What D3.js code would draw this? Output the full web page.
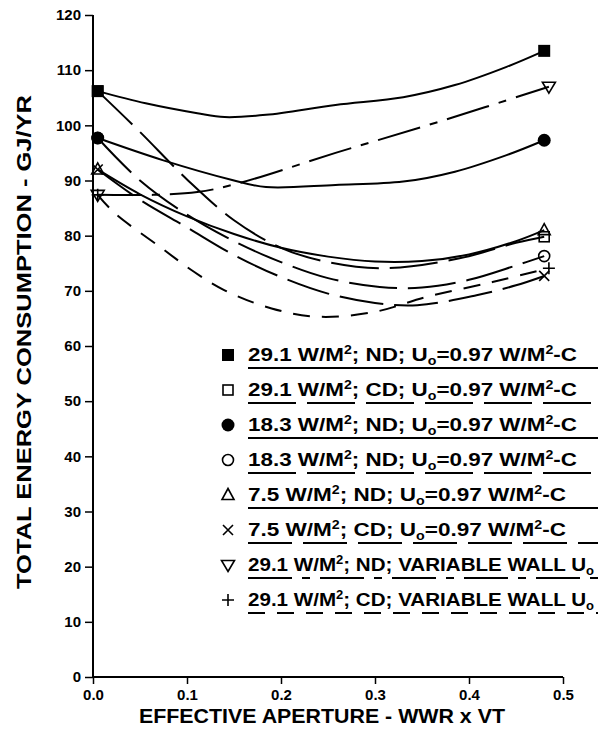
<!DOCTYPE html>
<html><head><meta charset="utf-8">
<script src="https://cdn.jsdelivr.net/npm/d3@7"></script>
<style>body{margin:0;background:#fff}svg{display:block}</style>
</head><body><svg id="c" width="600" height="734"></svg>
<script>
// ---- data ----
const xTicks = [0, 0.1, 0.2, 0.3, 0.4, 0.5];
const xTickLabels = ["0.0", "0.1", "0.2", "0.3", "0.4", "0.5"];
const yTicks = [0,10,20,30,40,50,60,70,80,90,100,110,120];

// 29.1 W/M2 ND (filled square, solid)
const sqFilled = [[0.005,106.2],[0.056,104.0],[0.111,102.2],[0.14,101.5],[0.184,101.9],[0.258,103.7],[0.33,105.1],[0.385,107.3],[0.44,110.6],[0.48,113.5]];
// 29.1 W/M2 CD (open square, long dash)
const sqOpen = [[0.005,106.2],[0.05,98.8],[0.1,90.2],[0.15,82.8],[0.2,77.8],[0.25,75.2],[0.31,74.1],[0.39,75.9],[0.45,78.7],[0.48,79.8]];
// 18.3 W/M2 ND (filled circle, solid)
const ciFilled = [[0.005,97.7],[0.074,93.7],[0.148,90.1],[0.184,88.8],[0.258,89.2],[0.33,89.8],[0.385,91.6],[0.44,94.6],[0.48,97.3]];
// 18.3 W/M2 (open circle, long dash)
const ciOpen = [[0.005,97.7],[0.05,90.0],[0.1,83.8],[0.15,79.0],[0.2,75.2],[0.25,72.3],[0.305,70.7],[0.35,70.6],[0.4,72.0],[0.45,74.6],[0.48,76.3]];
// 7.5 W/M2 ND (triangle, solid)
const triUp = [[0.005,92.0],[0.05,87.5],[0.1,83.5],[0.15,80.3],[0.2,77.8],[0.25,76.2],[0.3,75.3],[0.35,75.4],[0.4,76.6],[0.45,79.0],[0.48,81.0]];
// 7.5 W/M2 CD (x, long dash)
const xMark = [[0.005,92.0],[0.05,86.5],[0.1,81.5],[0.15,76.5],[0.2,72.5],[0.25,69.5],[0.3,67.8],[0.345,67.4],[0.408,69.2],[0.45,71.0],[0.48,72.7]];
// 29.1 W/M2 ND variable wall (inverted triangle, dash-dot)
const triDown = [[0.005,87.4],[0.064,87.4],[0.111,87.9],[0.155,89.5],[0.258,95.0],[0.367,100.6],[0.485,107.0]];
// 29.1 W/M2 CD variable wall (plus, short dash)
const plusMark = [[0.005,87.4],[0.023,84.1],[0.071,78.0],[0.107,73.5],[0.14,70.1],[0.19,66.8],[0.24,65.3],[0.3,66.2],[0.355,68.9],[0.425,71.6],[0.485,74.1]];

const legendLoads = ["29.1","29.1","18.3","18.3","7.5","7.5","29.1","29.1"];
const legendControl = ["ND","CD","ND","ND","ND","CD","ND","CD"];
const legendWall = ["fixed","fixed","fixed","fixed","fixed","fixed","variable","variable"];

// ---- styles ----
const series = [
  {data: sqFilled, mk: "sqF", dash: null},
  {data: sqOpen, mk: "sqO", dash: "48,11"},
  {data: ciFilled, mk: "ciF", dash: null},
  {data: ciOpen, mk: "ciO", dash: "48,11"},
  {data: triUp, mk: "triU", dash: null},
  {data: xMark, mk: "x", dash: "44,11"},
  {data: triDown, mk: "triD", dash: "44,10,8,10"},
  {data: plusMark, mk: "plus", dash: "17,12"}
];

const svg = d3.select("#c");
const x = d3.scaleLinear().domain([0,0.5]).range([93,563]);
const y = d3.scaleLinear().domain([0,120]).range([677,15]);
const FONT = "'Liberation Sans Narrow','Liberation Sans',Arial,sans-serif";

// axes
const gx = svg.append("g").attr("transform","translate(0,677)")
  .call(d3.axisBottom(x).tickValues(xTicks).tickFormat((d,i)=>xTickLabels[i]).tickSize(7).tickPadding(5));
const gy = svg.append("g").attr("transform","translate(93,0)")
  .call(d3.axisLeft(y).tickValues(yTicks).tickSize(8).tickPadding(4));
[gx,gy].forEach(g=>{
  g.select(".domain").attr("stroke","#000").attr("stroke-width",2);
  g.selectAll(".tick line").attr("stroke","#000").attr("stroke-width",1.5);
  g.selectAll(".tick text").attr("fill","#000").style("font-family","'Liberation Sans',Arial,sans-serif")
    .style("font-size","15px").style("font-weight","bold");
});
gx.select(".domain").attr("d","M93,0H563");
gy.select(".domain").attr("d","M0,677V15");

// titles
svg.append("text").attr("x",322).attr("y",723).attr("text-anchor","middle")
  .attr("textLength",366).attr("lengthAdjust","spacingAndGlyphs")
  .style("font-family",FONT).style("font-size","21px").style("font-weight","bold")
  .text("EFFECTIVE APERTURE - WWR x VT");
svg.append("text").attr("transform","translate(31,342) rotate(-90)").attr("text-anchor","middle")
  .attr("textLength",494).attr("lengthAdjust","spacingAndGlyphs")
  .style("font-family",FONT).style("font-size","21px").style("font-weight","bold")
  .text("TOTAL ENERGY CONSUMPTION - GJ/YR");

// markers
function marker(g, type, cx, cy) {
  const s = 6;
  if (type==="sqF") g.append("rect").attr("x",cx-s).attr("y",cy-s).attr("width",2*s).attr("height",2*s).attr("fill","#000");
  else if (type==="sqO") g.append("rect").attr("x",cx-5).attr("y",cy-5).attr("width",10).attr("height",10).attr("fill","none").attr("stroke","#000").attr("stroke-width",1.6);
  else if (type==="ciF") g.append("circle").attr("cx",cx).attr("cy",cy).attr("r",6.5).attr("fill","#000");
  else if (type==="ciO") g.append("circle").attr("cx",cx).attr("cy",cy).attr("r",5.5).attr("fill","none").attr("stroke","#000").attr("stroke-width",1.6);
  else if (type==="triU") g.append("path").attr("d",`M${cx},${cy-6.5}L${cx+6},${cy+4.5}L${cx-6},${cy+4.5}Z`).attr("fill","none").attr("stroke","#000").attr("stroke-width",1.6);
  else if (type==="triD") g.append("path").attr("d",`M${cx},${cy+6.5}L${cx+6.5},${cy-4.5}L${cx-6.5},${cy-4.5}Z`).attr("fill","none").attr("stroke","#000").attr("stroke-width",1.6);
  else if (type==="x") g.append("path").attr("d",`M${cx-5},${cy-5}L${cx+5},${cy+5}M${cx+5},${cy-5}L${cx-5},${cy+5}`).attr("stroke","#000").attr("stroke-width",1.6);
  else if (type==="plus") g.append("path").attr("d",`M${cx-6},${cy}L${cx+6},${cy}M${cx},${cy-6}L${cx},${cy+6}`).attr("stroke","#000").attr("stroke-width",1.6);
}

const line = d3.line().x(d=>x(d[0])).y(d=>y(d[1])).curve(d3.curveCatmullRom.alpha(0.5));
const gl = svg.append("g");
series.forEach(s=>{
  gl.append("path").attr("d",line(s.data)).attr("fill","none").attr("stroke","#000")
    .attr("stroke-width",2).attr("stroke-dasharray",s.dash);
});
const gm = svg.append("g");
[1,3,4,5,6,7,0,2].forEach(i=>{
  const s = series[i];
  const a = s.data[0], b = s.data[s.data.length-1];
  marker(gm, s.mk, x(a[0]), y(a[1]));
  marker(gm, s.mk, x(b[0]), y(b[1]));
});

// legend
const lg = svg.append("g");
const rowY0 = 361, rowDy = 35;
legendLoads.forEach((ld,i)=>{
  const by = rowY0 + i*rowDy;
  marker(lg, series[i].mk, 228, by-6);
  const fixed = legendWall[i]==="fixed";
  const tl = fixed ? (ld.length===4 ? 329 : 318) : 346;
  const t = lg.append("text").attr("x",248).attr("y",by)
    .attr("textLength",tl).attr("lengthAdjust","spacingAndGlyphs")
    .style("font-family","'Liberation Sans',Arial,sans-serif").style("font-size","19px").style("font-weight","bold");
  t.append("tspan").text(`${ld} W/M`);
  t.append("tspan").attr("dy",-7).style("font-size","12px").text("2");
  t.append("tspan").attr("dy",7).text(`; ${legendControl[i]}; `);
  if (fixed) {
    t.append("tspan").text("U");
    t.append("tspan").attr("dy",4).style("font-size","12px").text("o");
    t.append("tspan").attr("dy",-4).text("=0.97 W/M");
    t.append("tspan").attr("dy",-7).style("font-size","12px").text("2");
    t.append("tspan").attr("dy",7).text("-C");
  } else {
    t.append("tspan").text("VARIABLE WALL U");
    t.append("tspan").attr("dy",4).style("font-size","12px").text("o");
  }
  lg.append("line").attr("x1",248).attr("x2",598).attr("y1",by+7).attr("y2",by+7)
    .attr("stroke","#000").attr("stroke-width",2).attr("stroke-dasharray",series[i].dash);
});
</script></body></html>
